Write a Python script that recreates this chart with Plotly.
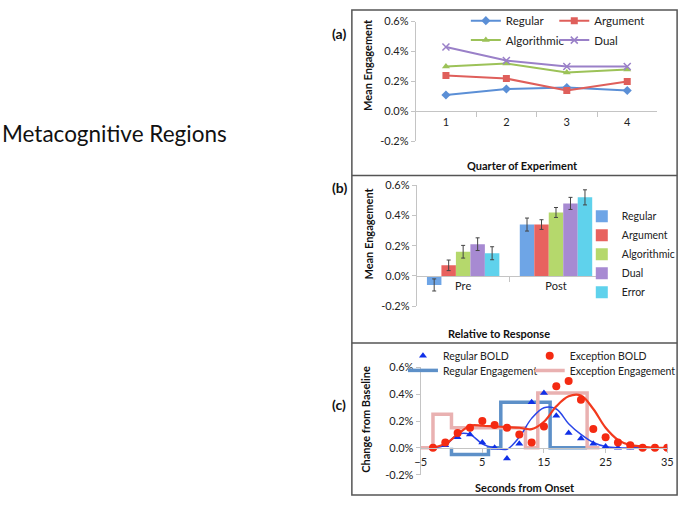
import plotly.graph_objects as go

W, H = 689, 505
FONT = "Lato"

# ---------------- data ----------------
# Panel (a): mean engagement by quarter of experiment (%)
quarters = ["1", "2", "3", "4"]
a_regular = [0.11, 0.15, 0.16, 0.14]
a_argument = [0.24, 0.22, 0.14, 0.20]
a_algorithmic = [0.30, 0.32, 0.26, 0.28]
a_dual = [0.43, 0.34, 0.30, 0.30]

# Panel (b): mean engagement relative to response (%)
phases = ["Pre", "Post"]
b_regular = [-0.06, 0.34]
b_regular_err = [0.04, 0.043]
b_argument = [0.07, 0.34]
b_argument_err = [0.035, 0.032]
b_algorithmic = [0.16, 0.42]
b_algorithmic_err = [0.042, 0.033]
b_dual = [0.21, 0.48]
b_dual_err = [0.042, 0.04]
b_error = [0.15, 0.52]
b_error_err = [0.043, 0.05]

# Panel (c): change from baseline by seconds from onset (%)
seconds = [-3, -1, 1, 3, 5, 7, 9, 11, 13, 15, 17, 19, 21, 23, 25, 27, 29, 31, 33, 35]
regular_bold = [0.0, 0.02, 0.08, 0.10, 0.04, 0.0, -0.08, 0.03, 0.34, 0.41, 0.24, 0.11,
                0.07, 0.03, 0.01, 0.0, 0.0, 0.0, 0.0, 0.0]
exception_bold = [0.0, 0.04, 0.11, 0.15, 0.20, 0.17, 0.15, 0.10, 0.04, 0.16, 0.46, 0.50,
                  0.36, 0.14, 0.08, 0.04, 0.02, 0.0, 0.0, 0.0]
regular_model = [0.0, 0.02, 0.10, 0.10, 0.03, 0.0, -0.01, 0.08, 0.22, 0.30, 0.29, 0.18,
                 0.10, 0.04, 0.01, 0.0, 0.0, 0.0, 0.0, 0.0]
exception_model = [0.0, 0.03, 0.10, 0.165, 0.165, 0.16, 0.155, 0.15, 0.14, 0.195, 0.31, 0.385,
                   0.39, 0.29, 0.15, 0.06, 0.02, 0.01, 0.0, 0.0]
regular_eng_x = [0, 0, 6, 6, 8, 8, 16, 16, 22]
regular_eng_y = [0, -0.05, -0.05, 0, 0, 0.34, 0.34, 0, 0]
exception_eng_x = [-5, -3, -3, 0, 0, 12, 12, 14, 14, 22, 22, 24]
exception_eng_y = [0, 0, 0.25, 0.25, 0.15, 0.15, 0, 0, 0.41, 0.41, 0, 0]

y_ticks = [-0.2, 0.0, 0.2, 0.4, 0.6]
y_tick_labels = ["-0.2%", "0.0%", "0.2%", "0.4%", "0.6%"]
c_x_ticks = [-5, 5, 15, 25, 35]

# ---------------- layout helpers ----------------
def px(x):
    return x / W

def py(y):
    return 1 - y / H

C_REG = "#5b8fd6"
C_ARG = "#df5f5b"
C_ALG = "#9cc258"
C_DUAL = "#9a80c8"

fig = go.Figure()

# ---- panel (a) ----
for name, vals, col, sym, leg in [
    ("Regular", a_regular, C_REG, "diamond", "legend"),
    ("Argument", a_argument, C_ARG, "square", "legend2"),
    ("Algorithmic", a_algorithmic, C_ALG, "triangle-up", "legend3"),
    ("Dual", a_dual, C_DUAL, "x-thin", "legend4"),
]:
    mk = dict(symbol=sym, size=7, color=col)
    if sym == "x-thin":
        mk = dict(symbol=sym, size=7, color=col, line=dict(color=col, width=1.5))
    fig.add_trace(go.Scatter(x=quarters, y=vals, name=name, mode="lines+markers",
                             line=dict(color=col, width=2), marker=mk,
                             xaxis="x", yaxis="y", legend=leg))

# ---- panel (b) ----
bar_cols = ["#6ea5e6", "#e8625f", "#b5d86c", "#a78ad2", "#5fd2ec"]
for name, vals, err, col in [
    ("Regular", b_regular, b_regular_err, bar_cols[0]),
    ("Argument", b_argument, b_argument_err, bar_cols[1]),
    ("Algorithmic", b_algorithmic, b_algorithmic_err, bar_cols[2]),
    ("Dual", b_dual, b_dual_err, bar_cols[3]),
    ("Error", b_error, b_error_err, bar_cols[4]),
]:
    fig.add_trace(go.Bar(x=phases, y=vals, name=name, marker=dict(color=col, line=dict(width=0)),
                         error_y=dict(type="data", array=err, color="#444444", thickness=1, width=2),
                         xaxis="x2", yaxis="y2", legend="legend5", legendgroup="b" + name))

# ---- panel (c) ----
fig.add_trace(go.Scatter(x=regular_eng_x, y=regular_eng_y, name="Regular Engagement", mode="lines",
                         line=dict(color="#5d90c8", width=3.5), xaxis="x3", yaxis="y3",
                         legend="legend8"))
fig.add_trace(go.Scatter(x=exception_eng_x, y=exception_eng_y, name="Exception Engagement", mode="lines",
                         line=dict(color="#e9b1b1", width=3.5), xaxis="x3", yaxis="y3",
                         legend="legend9"))
fig.add_trace(go.Scatter(x=seconds, y=regular_model, mode="lines", showlegend=False,
                         line=dict(color="#2a46e8", width=1.5, shape="spline"), xaxis="x3", yaxis="y3"))
fig.add_trace(go.Scatter(x=seconds, y=exception_model, mode="lines", showlegend=False,
                         line=dict(color="#f23a1e", width=2.2, shape="spline"), xaxis="x3", yaxis="y3"))
fig.add_trace(go.Scatter(x=seconds, y=regular_bold, name="Regular BOLD", mode="markers",
                         marker=dict(symbol="triangle-up", size=7, color="#1030e8"),
                         xaxis="x3", yaxis="y3", legend="legend6"))
fig.add_trace(go.Scatter(x=seconds, y=exception_bold, name="Exception BOLD", mode="markers",
                         marker=dict(symbol="circle", size=8, color="#f42a12"),
                         xaxis="x3", yaxis="y3", legend="legend7"))

# ---------------- axes ----------------
tickfont = dict(family=FONT, size=11, color="#222222")
yrange = [-0.2, 0.6]

doms = {
    "a": dict(x=[px(417), px(663)], y=[py(138), py(15)]),
    "b": dict(x=[px(418), px(607)], y=[py(307), py(183)]),
    "c": dict(x=[px(422), px(673)], y=[py(480), py(370)]),
}

def zero_pos(d):
    y0, y1 = d["y"]
    return y0 + (0 - yrange[0]) / (yrange[1] - yrange[0]) * (y1 - y0)

def yaxis_def(d, anchor):
    return dict(domain=d["y"], range=yrange, anchor=anchor, tickmode="array",
                tickvals=y_ticks, ticktext=y_tick_labels, showgrid=False, zeroline=False,
                showline=True, linecolor="#c4c4c4", linewidth=1, ticks="outside",
                ticklen=4, tickcolor="#c4c4c4", tickfont=tickfont)

def xaxis_def_cat(d, n):
    return dict(domain=d["x"], anchor="free", position=zero_pos(d), type="category",
                range=[-0.5, n - 0.5], tickson="boundaries", ticks="outside", ticklen=5,
                tickcolor="#c4c4c4", showline=True, linecolor="#c4c4c4", linewidth=1,
                showgrid=False, zeroline=False, tickfont=tickfont)

fig.update_layout(
    xaxis=xaxis_def_cat(doms["a"], 4),
    yaxis=yaxis_def(doms["a"], "x"),
    xaxis2=xaxis_def_cat(doms["b"], 2),
    yaxis2=yaxis_def(doms["b"], "x2"),
    xaxis3=dict(domain=doms["c"]["x"], anchor="free", position=zero_pos(doms["c"]),
                range=[-5, 35], tickmode="array", tickvals=c_x_ticks, ticks="outside", ticklen=4,
                tickcolor="#c4c4c4", showline=True, linecolor="#c4c4c4", linewidth=1,
                showgrid=False, zeroline=False, tickfont=tickfont),
    yaxis3=yaxis_def(doms["c"], "x3"),
    barmode="group", bargap=0.22, bargroupgap=0,
)

def single_legend(text_x, row_y, size):
    # text starts 40px right of the legend's left edge
    return dict(x=px(text_x - 40), y=py(row_y), xanchor="left", yanchor="middle",
                orientation="h", bgcolor="rgba(0,0,0,0)", itemwidth=30, borderwidth=0,
                font=dict(family=FONT, size=size, color="#222222"))

fig.update_layout(
    legend=single_legend(508, 14, 11.5),
    legend2=single_legend(598, 14, 11.5),
    legend3=single_legend(508, 34, 11.5),
    legend4=single_legend(598, 34, 11.5),
    legend5=dict(x=px(586), y=py(200), xanchor="left", yanchor="top", orientation="v",
                 bgcolor="rgba(0,0,0,0)", font=dict(family=FONT, size=10.5, color="#222222"),
                 tracegroupgap=0, itemwidth=30),
    legend6=single_legend(444, 358, 10.5),
    legend7=single_legend(573, 358, 10.5),
    legend8=single_legend(444, 373, 10.5),
    legend9=single_legend(573, 373, 10.5),
)

# ---------------- frame, titles ----------------
frame = dict(color="#555555", width=1.5)
fig.add_shape(type="rect", xref="paper", yref="paper", x0=px(352), x1=px(683), y0=py(501), y1=py(3),
              line=frame)
fig.add_shape(type="line", xref="paper", yref="paper", x0=px(352), x1=px(683), y0=py(173), y1=py(173),
              line=frame)
fig.add_shape(type="line", xref="paper", yref="paper", x0=px(352), x1=px(683), y0=py(345), y1=py(345),
              line=frame)

def ann(text, x, y, size=11, bold=True, angle=0, xanchor="center"):
    t = f"<b>{text}</b>" if bold else text
    fig.add_annotation(text=t, x=px(x), y=py(y), xref="paper", yref="paper", showarrow=False,
                       textangle=angle, xanchor=xanchor, yanchor="middle",
                       font=dict(family=FONT, size=size, color="#111111"))

ann("Quarter of Experiment", 526, 163)
ann("Relative to Response", 502, 335)
ann("Seconds from Onset", 528, 493)
ann("Mean Engagement", 368, 60, angle=-90)
ann("Mean Engagement", 368, 233, angle=-90)
ann("Change from Baseline", 365, 423, angle=-90)
ann("(a)", 339, 27, size=14)
ann("(b)", 339, 185, size=14)
ann("(c)", 339, 408, size=14)
ann("Metacognitive Regions", -6, 130, size=22.5, bold=False, xanchor="left")

fig.update_layout(width=W, height=H, margin=dict(l=0, r=0, t=0, b=0),
                  paper_bgcolor="white", plot_bgcolor="white",
                  font=dict(family=FONT, size=11, color="#222222"))

fig.write_html("out.html", config={"displayModeBar": False},
               post_script="document.body.style.margin='0';document.body.style.padding='0';")
